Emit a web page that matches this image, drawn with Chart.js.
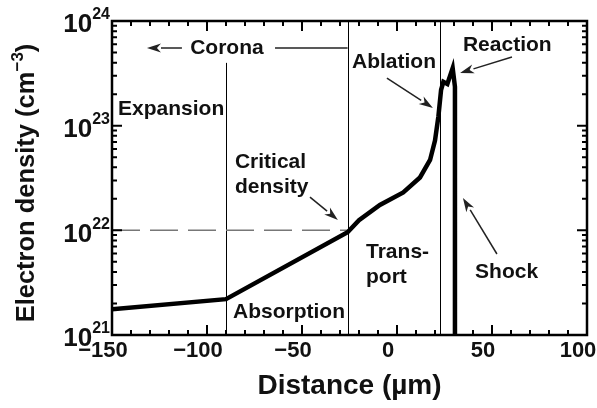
<!DOCTYPE html>
<html>
<head>
<meta charset="utf-8">
<script src="https://cdn.jsdelivr.net/npm/chart.js@4/dist/chart.umd.min.js"></script>
<style>
html,body{margin:0;padding:0;background:#fff;}
#wrap{width:597px;height:408px;}
</style>
</head>
<body>
<div id="wrap"><canvas id="c" width="597" height="408"></canvas></div>
<script>
// ---- data ----
const distance = [-150, -90, -26, -20, -9, 3.3, 12.1, 17.4, 20, 21.8, 23.2, 24.4, 26.5, 29.3, 30.5, 30.5];
const density  = [1.76e21, 2.2e21, 9.6e21, 1.25e22, 1.75e22, 2.3e22, 3.2e22, 4.7e22, 7.2e22, 1.23e23, 2.2e23, 2.62e23, 2.5e23, 3.55e23, 2.35e23, 1e21];
const xTickValues = [-150, -100, -50, 0, 50, 100];
const yTickExponents = [21, 22, 23, 24];
const regionBoundaries = [-90, -26, 22.6];   // thin vertical lines (µm)
const criticalDensity = 1e22;

const FONT = '"Liberation Sans", Arial, Helvetica, sans-serif';
const INK = '#111';

// annotation texts: [text, x(µm), log10(density), align]
const labels = [
  ['Corona', -89.5, 23.742, 'center'],
  ['Expansion', -146.8, 23.159, 'left'],
  ['Critical', -85.3, 22.653, 'left'],
  ['density', -85.3, 22.414, 'left'],
  ['Absorption', -86.3, 21.22, 'left'],
  ['Ablation', -23.7, 23.608, 'left'],
  ['Reaction', 34.7, 23.771, 'left'],
  ['Trans-', -16.3, 21.793, 'left'],
  ['port', -16.3, 21.554, 'left'],
  ['Shock', 41.1, 21.602, 'left']
];
// arrows: [x0, log0, x1, log1] (head at the end point)
const arrows = [
  [-113.2, 23.742, -131.6, 23.742],
  [-45.8, 22.318, -31.1, 22.099],
  [-5.3, 23.455, 18.9, 23.169],
  [60.5, 23.656, 33.2, 23.503],
  [52.6, 21.774, 34.7, 22.309]
];
const plainLines = [
  [-64.2, 23.742, -26, 23.742]
];

function X(c, v){ return c.scales.x.getPixelForValue(v); }
function Y(c, lg){ return c.scales.y.getPixelForValue(Math.pow(10, lg)); }

const deco = {
  id: 'deco',
  beforeDatasetsDraw(chart){
    const ctx = chart.ctx, a = chart.chartArea;
    ctx.save();
    ctx.strokeStyle = '#000'; ctx.lineWidth = 1;
    regionBoundaries.forEach((v, i) => {
      const px = Math.round(X(chart, v)) + 0.5;
      const top = i === 0 ? Y(chart, 23.60) : a.top;
      ctx.beginPath(); ctx.moveTo(px, top); ctx.lineTo(px, a.bottom); ctx.stroke();
    });
    ctx.strokeStyle = '#777'; ctx.lineWidth = 1.5; ctx.setLineDash([28, 10]);
    const yc = chart.scales.y.getPixelForValue(criticalDensity);
    ctx.beginPath(); ctx.moveTo(a.left, yc); ctx.lineTo(X(chart, regionBoundaries[1]), yc); ctx.stroke();
    ctx.setLineDash([]);
    ctx.restore();
  },
  afterDraw(chart){
    const ctx = chart.ctx, a = chart.chartArea;
    const xs = chart.scales.x, ys = chart.scales.y;
    ctx.save();
    ctx.strokeStyle = '#000'; ctx.lineWidth = 2.5;
    ctx.strokeRect(a.left, a.top, a.right - a.left, a.bottom - a.top);
    ctx.lineWidth = 2;
    for (let v = -150; v <= 100; v += 10) {
      const px = xs.getPixelForValue(v);
      const len = (v % 50 === 0) ? 10 : 5;
      ctx.beginPath();
      ctx.moveTo(px, a.bottom); ctx.lineTo(px, a.bottom - len);
      ctx.moveTo(px, a.top); ctx.lineTo(px, a.top + len);
      ctx.stroke();
    }
    for (let e = 21; e <= 24; e++) {
      for (let m = 1; m <= 9; m++) {
        if (e === 24 && m > 1) break;
        const py = ys.getPixelForValue(m * Math.pow(10, e));
        const len = m === 1 ? 10 : 5;
        ctx.beginPath();
        ctx.moveTo(a.left, py); ctx.lineTo(a.left + len, py);
        ctx.moveTo(a.right, py); ctx.lineTo(a.right - len, py);
        ctx.stroke();
      }
    }
    // y tick labels 10^n
    ctx.fillStyle = INK; ctx.textBaseline = 'middle';
    yTickExponents.forEach(e => {
      const py = ys.getPixelForValue(Math.pow(10, e));
      ctx.font = 'bold 16px ' + FONT;
      const ew = ctx.measureText(String(e)).width;
      const ex = a.left - 2 - ew;
      ctx.textAlign = 'left';
      ctx.fillText(String(e), ex, py - 6);
      ctx.font = 'bold 26px ' + FONT;
      ctx.textAlign = 'right';
      ctx.fillText('10', ex, py + 4);
    });
    // y title with superscript
    ctx.save();
    ctx.translate(25, 183);
    ctx.rotate(-Math.PI / 2);
    const p1 = 'Electron density (cm', p2 = '\u22123', p3 = ')';
    ctx.font = 'bold 25.5px ' + FONT; const w1 = ctx.measureText(p1).width, w3 = ctx.measureText(p3).width;
    ctx.font = 'bold 17px ' + FONT; const w2 = ctx.measureText(p2).width;
    let sx = -(w1 + w2 + w3) / 2;
    ctx.textAlign = 'left'; ctx.textBaseline = 'alphabetic';
    ctx.font = 'bold 25.5px ' + FONT; ctx.fillText(p1, sx, 9); sx += w1;
    ctx.font = 'bold 17px ' + FONT; ctx.fillText(p2, sx, -2); sx += w2;
    ctx.font = 'bold 25.5px ' + FONT; ctx.fillText(p3, sx, 9);
    ctx.restore();
    // annotation texts
    ctx.font = 'bold 21px ' + FONT; ctx.fillStyle = INK; ctx.textBaseline = 'middle';
    labels.forEach(([t, x, lg, al]) => {
      ctx.textAlign = al;
      ctx.fillText(t, X(chart, x), Y(chart, lg));
    });
    // arrows
    ctx.strokeStyle = '#222'; ctx.fillStyle = '#222'; ctx.lineWidth = 1.5;
    plainLines.forEach(([x0, l0, x1, l1]) => {
      ctx.beginPath(); ctx.moveTo(X(chart, x0), Y(chart, l0)); ctx.lineTo(X(chart, x1), Y(chart, l1)); ctx.stroke();
    });
    arrows.forEach(([x0, l0, x1, l1]) => {
      const ax = X(chart, x0), ay = Y(chart, l0), bx = X(chart, x1), by = Y(chart, l1);
      const ang = Math.atan2(by - ay, bx - ax), hl = 14, hw = 4.5;
      const cx = bx - hl * Math.cos(ang), cy = by - hl * Math.sin(ang);
      ctx.beginPath(); ctx.moveTo(ax, ay); ctx.lineTo(cx, cy); ctx.stroke();
      ctx.beginPath();
      ctx.moveTo(bx, by);
      ctx.lineTo(cx + hw * Math.sin(ang), cy - hw * Math.cos(ang));
      ctx.lineTo(bx - (hl - 4) * Math.cos(ang), by - (hl - 4) * Math.sin(ang));
      ctx.lineTo(cx - hw * Math.sin(ang), cy + hw * Math.cos(ang));
      ctx.closePath(); ctx.fill();
    });
    ctx.restore();
  }
};

new Chart(document.getElementById('c'), {
  type: 'line',
  data: {
    datasets: [{
      data: distance.map((d, i) => ({ x: d, y: density[i] })),
      borderColor: '#000',
      borderWidth: 4.5,
      pointRadius: 0,
      tension: 0,
      fill: false,
      borderJoinStyle: 'miter'
    }]
  },
  options: {
    responsive: false,
    animation: false,
    devicePixelRatio: 1,
    layout: { padding: { top: 21, right: 10, left: 0, bottom: 0 } },
    plugins: { legend: { display: false }, tooltip: { enabled: false } },
    scales: {
      x: {
        type: 'linear', min: -150, max: 100,
        afterBuildTicks: s => { s.ticks = xTickValues.map(v => ({ value: v })); },
        afterFit: s => { s.height = 73; s.paddingLeft = 0; s.paddingRight = 0; },
        ticks: {
          autoSkip: false, maxRotation: 0, padding: 3, labelOffset: -9,
          color: INK, font: { family: FONT, size: 22, weight: 'bold' },
          callback: v => (v < 0 ? '\u2212' + Math.abs(v) : String(v))
        },
        grid: { display: false, drawTicks: false },
        border: { display: false },
        title: { display: true, text: 'Distance (\u00b5m)', color: INK,
                 font: { family: FONT, size: 28, weight: 'bold' }, padding: { top: 0, bottom: 5 } }
      },
      y: {
        type: 'logarithmic', min: 1e21, max: 1e24,
        afterFit: s => { s.width = 112; },
        ticks: { display: false },
        grid: { display: false, drawTicks: false },
        border: { display: false }
      }
    }
  },
  plugins: [deco]
});
</script>
</body>
</html>
